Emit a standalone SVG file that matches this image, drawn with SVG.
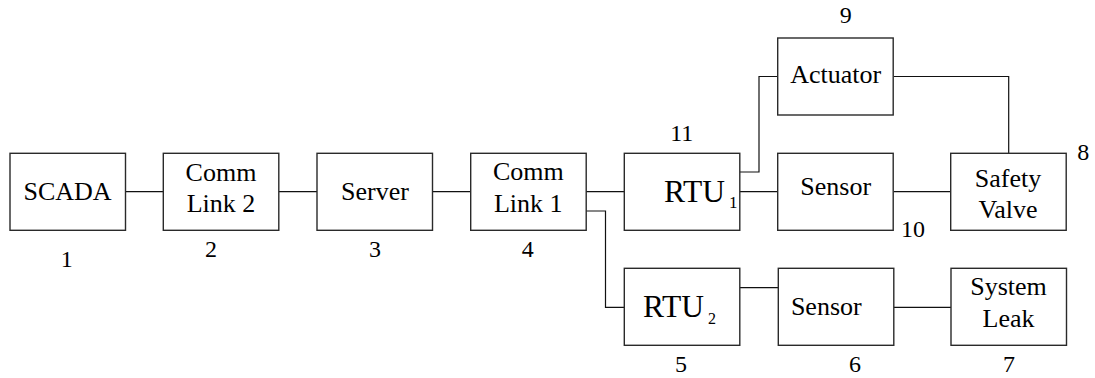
<svg xmlns="http://www.w3.org/2000/svg" width="1095" height="378" viewBox="0 0 1095 378" font-family="Times New Roman, Liberation Serif, serif">
<defs>
<rect id="box" width="115.5" height="77" fill="#fff" stroke="#2a2a2a" stroke-width="1.4"/>
</defs>
<rect width="1095" height="378" fill="#fff"/>
<g id="connectors" fill="none" stroke="#111" stroke-width="1.2">
<line x1="125" y1="191.7" x2="163.3" y2="191.7"/>
<line x1="279" y1="191.7" x2="317" y2="191.7"/>
<line x1="432.7" y1="191.7" x2="470.7" y2="191.7"/>
<line x1="586" y1="191.7" x2="624.3" y2="191.7"/>
<line x1="739.7" y1="191.7" x2="777.7" y2="191.7"/>
<line x1="893.7" y1="191.7" x2="950.7" y2="191.7"/>
<path d="M739.7 172H759V76.5H777.7"/>
<path d="M893.7 76.5H1008.7V153.3"/>
<path d="M586 211H605.5V307.3H624.3"/>
<line x1="740" y1="287.7" x2="778.3" y2="287.7"/>
<line x1="894" y1="307.3" x2="951" y2="307.3"/>
</g>
<g id="scada"><use href="#box" x="10" y="153.3"/><text font-family="Times New Roman, Liberation Serif, serif" text-anchor="middle" font-size="26" x="67.5" y="200">SCADA</text><text font-family="Times New Roman, Liberation Serif, serif" text-anchor="middle" font-size="24" x="66.7" y="267">1</text></g>
<g id="commlink2"><use href="#box" x="163.3" y="153.3"/><text font-family="Times New Roman, Liberation Serif, serif" text-anchor="middle" font-size="26" x="221" y="180.5">Comm</text><text font-family="Times New Roman, Liberation Serif, serif" text-anchor="middle" font-size="26" x="221" y="212.2">Link 2</text><text font-family="Times New Roman, Liberation Serif, serif" text-anchor="middle" font-size="24" x="211" y="256.7">2</text></g>
<g id="server"><use href="#box" x="317" y="153.3"/><text font-family="Times New Roman, Liberation Serif, serif" text-anchor="middle" font-size="26" x="375" y="200">Server</text><text font-family="Times New Roman, Liberation Serif, serif" text-anchor="middle" font-size="24" x="375" y="256.7">3</text></g>
<g id="commlink1"><use href="#box" x="470.7" y="153.3"/><text font-family="Times New Roman, Liberation Serif, serif" text-anchor="middle" font-size="26" x="528.3" y="180.3">Comm</text><text font-family="Times New Roman, Liberation Serif, serif" text-anchor="middle" font-size="26" x="528.3" y="211.8">Link 1</text><text font-family="Times New Roman, Liberation Serif, serif" text-anchor="middle" font-size="24" x="527.7" y="256.7">4</text></g>
<g id="rtu1"><use href="#box" x="624.3" y="153.3"/><text font-family="Times New Roman, Liberation Serif, serif" font-size="31.5" x="664" y="201.7">RTU<tspan font-size="17" dx="4" dy="6.6">1</tspan></text><text font-family="Times New Roman, Liberation Serif, serif" font-size="24" text-anchor="middle" x="681.7" y="140.7">11</text></g>
<g id="actuator"><use href="#box" x="777.7" y="38"/><text font-family="Times New Roman, Liberation Serif, serif" text-anchor="middle" font-size="26" x="835.7" y="83.3">Actuator</text><text font-family="Times New Roman, Liberation Serif, serif" text-anchor="middle" font-size="24" x="845.7" y="22.7">9</text></g>
<g id="sensor1"><use href="#box" x="777.7" y="153.3"/><text font-family="Times New Roman, Liberation Serif, serif" text-anchor="middle" font-size="26" x="835.7" y="195">Sensor</text><text font-family="Times New Roman, Liberation Serif, serif" text-anchor="middle" font-size="24" x="913" y="237">10</text></g>
<g id="safetyvalve"><use href="#box" x="950.7" y="153.3"/><text font-family="Times New Roman, Liberation Serif, serif" text-anchor="middle" font-size="26" x="1008" y="186.7">Safety</text><text font-family="Times New Roman, Liberation Serif, serif" text-anchor="middle" font-size="26" x="1008" y="218.3">Valve</text><text font-family="Times New Roman, Liberation Serif, serif" text-anchor="middle" font-size="24" x="1083.3" y="160">8</text></g>
<g id="rtu2"><use href="#box" x="624.3" y="268.3"/><text font-family="Times New Roman, Liberation Serif, serif" font-size="31.5" x="643" y="317.3">RTU<tspan font-size="16" dx="4" dy="6.7">2</tspan></text><text font-family="Times New Roman, Liberation Serif, serif" font-size="24" text-anchor="middle" x="681" y="371.7">5</text></g>
<g id="sensor2"><use href="#box" x="778.3" y="268.3"/><text font-family="Times New Roman, Liberation Serif, serif" text-anchor="middle" font-size="26" x="826.3" y="315">Sensor</text><text font-family="Times New Roman, Liberation Serif, serif" text-anchor="middle" font-size="24" x="855" y="371.5">6</text></g>
<g id="systemleak"><use href="#box" x="951" y="268.3"/><text font-family="Times New Roman, Liberation Serif, serif" text-anchor="middle" font-size="26" x="1008.5" y="295">System</text><text font-family="Times New Roman, Liberation Serif, serif" text-anchor="middle" font-size="26" x="1008.5" y="327.3">Leak</text><text font-family="Times New Roman, Liberation Serif, serif" text-anchor="middle" font-size="24" x="1009" y="371.5">7</text></g>
</svg>
